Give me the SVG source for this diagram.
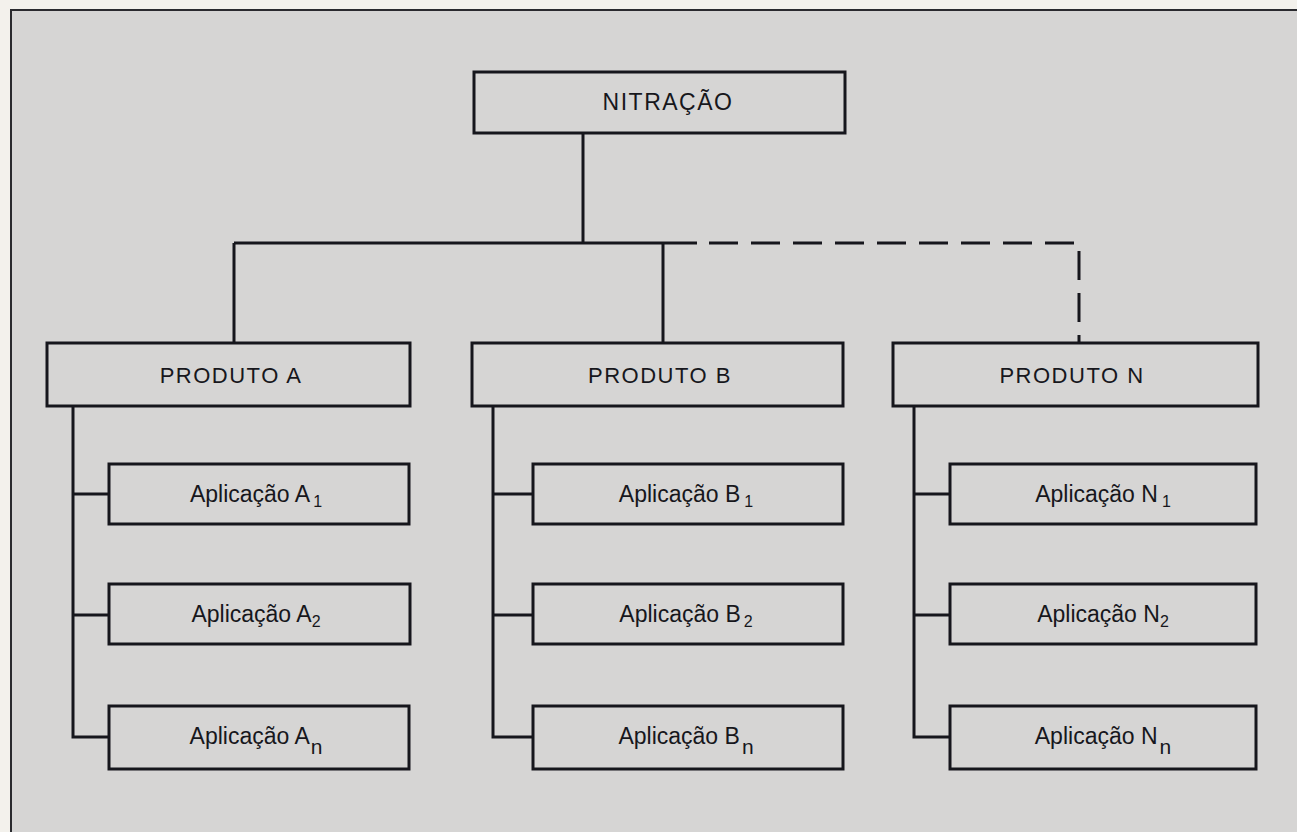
<svg xmlns="http://www.w3.org/2000/svg" width="1297" height="832" viewBox="0 0 1297 832">
<defs>
<style>
.box{fill:#d6d5d4;stroke:#16161c;stroke-width:3}
.ln{fill:none;stroke:#16161c;stroke-width:3}
.dash{fill:none;stroke:#16161c;stroke-width:3;stroke-dasharray:29 13}
text{font-family:"Liberation Sans","Arial",sans-serif;fill:#17171c;text-anchor:middle}
.t1{font-size:23px;letter-spacing:1.5px}
.t2{font-size:22px;letter-spacing:1.5px}
.t3{font-size:23px}
.sub{font-size:16px}
.subn{font-size:21px}
</style>
</defs>
<rect x="0" y="0" width="1297" height="832" fill="#f3f1ec"/>
<rect x="11" y="10" width="1300" height="840" fill="#d6d5d4" stroke="#2a2a2e" stroke-width="2"/>
<g id="connectors">
<path class="ln" d="M583,133 V243 M234,243 H697 M234,243 V343 M663,243 V343"/>
<path class="dash" d="M709,243 H1079 V343"/>
<path class="ln" d="M73,406 V737 H109 M73,494 H109 M73,615 H109"/>
<path class="ln" d="M493,406 V737 H533 M493,494 H533 M493,615 H533"/>
<path class="ln" d="M914,406 V737 H950 M914,494 H950 M914,615 H950"/>
</g>
<g id="nitracao"><rect class="box" x="474" y="72" width="371" height="61"/><text class="t1" x="668" y="110">NITRAÇÃO</text></g>
<g id="produtoA"><rect class="box" x="47" y="343" width="363" height="63"/><text class="t2" x="231" y="383">PRODUTO A</text></g>
<g id="produtoB"><rect class="box" x="472" y="343" width="371" height="63"/><text class="t2" x="660" y="383">PRODUTO B</text></g>
<g id="produtoN"><rect class="box" x="893" y="343" width="365" height="63"/><text class="t2" x="1072" y="383">PRODUTO N</text></g>
<g id="appA1"><rect class="box" x="109" y="464" width="300" height="60"/><text class="t3" x="256" y="502">Aplicação A<tspan class="sub" dx="3" dy="5">1</tspan></text></g>
<g id="appA2"><rect class="box" x="109" y="584" width="301" height="60"/><text class="t3" x="256" y="622">Aplicação A<tspan class="sub" dy="5">2</tspan></text></g>
<g id="appAn"><rect class="box" x="109" y="706" width="300" height="63"/><text class="t3" x="256" y="744">Aplicação A<tspan class="subn" dx="1" dy="10">n</tspan></text></g>
<g id="appB1"><rect class="box" x="533" y="464" width="310" height="60"/><text class="t3" x="686" y="502">Aplicação B<tspan class="sub" dx="4" dy="5">1</tspan></text></g>
<g id="appB2"><rect class="box" x="533" y="584" width="310" height="60"/><text class="t3" x="686" y="622">Aplicação B<tspan class="sub" dx="3" dy="5">2</tspan></text></g>
<g id="appBn"><rect class="box" x="533" y="706" width="310" height="63"/><text class="t3" x="686" y="744">Aplicação B<tspan class="subn" dx="2" dy="10">n</tspan></text></g>
<g id="appN1"><rect class="box" x="950" y="464" width="306" height="60"/><text class="t3" x="1103" y="502">Aplicação N<tspan class="sub" dx="4" dy="5">1</tspan></text></g>
<g id="appN2"><rect class="box" x="950" y="584" width="306" height="60"/><text class="t3" x="1103" y="622">Aplicação N<tspan class="sub" dy="5">2</tspan></text></g>
<g id="appNn"><rect class="box" x="950" y="706" width="306" height="63"/><text class="t3" x="1103" y="744">Aplicação N<tspan class="subn" dx="2" dy="10">n</tspan></text></g>
</svg>
